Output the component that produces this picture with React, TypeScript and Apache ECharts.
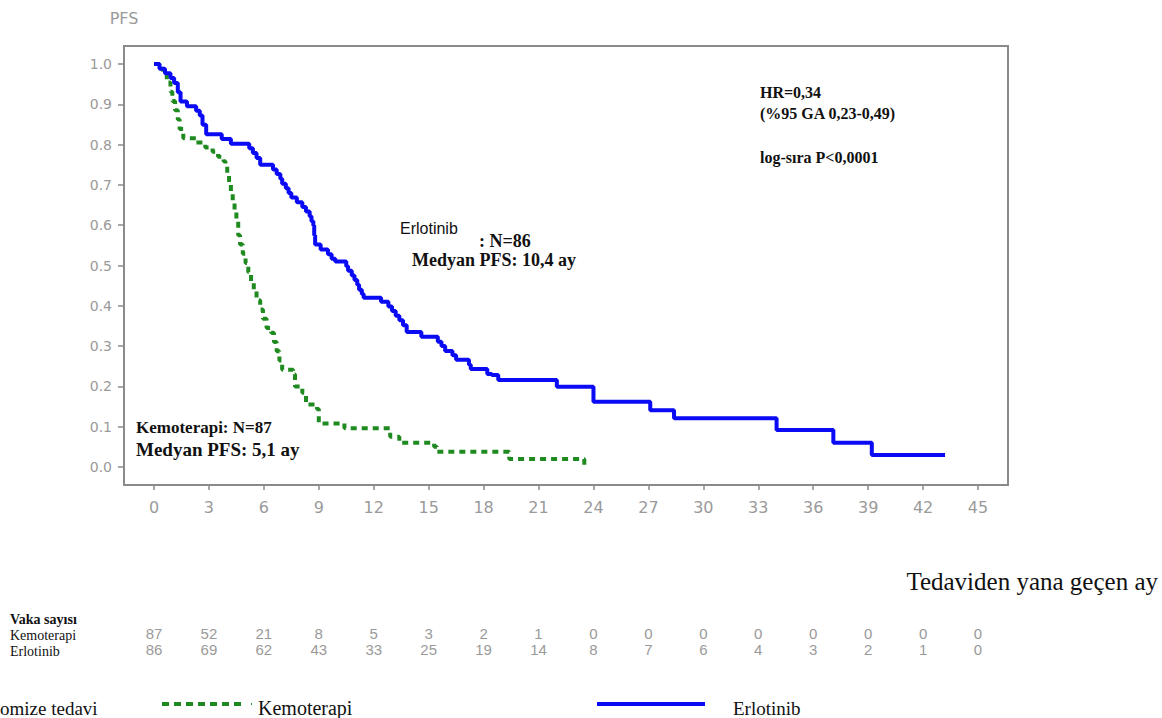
import React, { useEffect, useRef } from 'react';
import * as echarts from 'echarts';

// Kaplan-Meier PFS estimates: [month, survival]
const erlotinibCurve: [number, number][] = [
  [0, 1.0], [0.3, 0.988], [0.6, 0.977], [0.9, 0.965], [1.1, 0.953], [1.3, 0.93],
  [1.45, 0.907], [1.8, 0.895], [2.3, 0.884], [2.5, 0.872], [2.65, 0.849], [2.85, 0.826],
  [3.7, 0.814], [4.2, 0.802], [5.2, 0.791], [5.4, 0.779], [5.6, 0.767], [5.8, 0.75],
  [6.5, 0.738], [6.7, 0.727], [6.9, 0.715], [7.0, 0.703], [7.2, 0.692], [7.35, 0.68],
  [7.5, 0.669], [7.8, 0.657], [8.1, 0.645], [8.3, 0.634], [8.5, 0.622], [8.6, 0.61],
  [8.7, 0.599], [8.75, 0.575], [8.8, 0.552], [9.1, 0.54], [9.5, 0.528], [9.7, 0.517],
  [9.9, 0.51], [10.5, 0.498], [10.6, 0.487], [10.8, 0.475], [10.95, 0.464], [11.1, 0.452],
  [11.2, 0.44], [11.35, 0.429], [11.45, 0.42], [12.4, 0.41], [12.8, 0.398], [13.0, 0.387],
  [13.2, 0.375], [13.4, 0.364], [13.6, 0.352], [13.8, 0.335], [14.6, 0.323], [15.5, 0.311],
  [15.7, 0.3], [15.9, 0.288], [16.3, 0.277], [16.5, 0.266], [17.2, 0.254], [17.3, 0.243],
  [18.2, 0.231], [18.45, 0.228], [18.8, 0.216], [22.0, 0.199], [24.0, 0.162], [27.1, 0.141],
  [28.4, 0.121], [34.0, 0.092], [37.1, 0.06], [39.2, 0.03], [43.2, 0.03],
];

const kemoterapiCurve: [number, number][] = [
  [0, 1.0], [0.3, 0.988], [0.5, 0.977], [0.7, 0.954], [0.9, 0.931], [1.0, 0.908],
  [1.15, 0.885], [1.3, 0.862], [1.4, 0.839], [1.6, 0.816], [2.3, 0.805], [2.8, 0.793],
  [3.2, 0.782], [3.5, 0.77], [3.8, 0.759], [3.9, 0.747], [4.0, 0.724], [4.1, 0.701],
  [4.2, 0.678], [4.3, 0.655], [4.4, 0.632], [4.5, 0.609], [4.6, 0.575], [4.7, 0.552],
  [4.85, 0.529], [5.0, 0.506], [5.15, 0.483], [5.3, 0.46], [5.45, 0.437], [5.6, 0.414],
  [5.8, 0.391], [5.95, 0.368], [6.15, 0.345], [6.4, 0.333], [6.55, 0.31], [6.7, 0.287],
  [6.85, 0.264], [7.0, 0.241], [7.6, 0.23], [7.7, 0.2], [8.1, 0.184], [8.3, 0.155],
  [8.9, 0.144], [9.0, 0.108], [10.4, 0.096], [12.9, 0.075], [13.4, 0.06], [15.3, 0.05],
  [15.45, 0.038], [19.4, 0.02], [23.5, 0.0],
];

const xTicks = [0, 3, 6, 9, 12, 15, 18, 21, 24, 27, 30, 33, 36, 39, 42, 45];
const yTicks = [0, 0.1, 0.2, 0.3, 0.4, 0.5, 0.6, 0.7, 0.8, 0.9, 1.0];
const riskKemoterapi = [87, 52, 21, 8, 5, 3, 2, 1, 0, 0, 0, 0, 0, 0, 0, 0];
const riskErlotinib = [86, 69, 62, 43, 33, 25, 19, 14, 8, 7, 6, 4, 3, 2, 1, 0];

const seriesNames = ['Kemoterapi', 'Erlotinib'];
const statsLines = ['HR=0,34', '(%95 GA 0,23-0,49)', 'log-sıra P<0,0001'];

const GRAY = '#9a9a9a';
const AXIS = '#8a8a8a';
const SERIF = '"Liberation Serif", "Times New Roman", serif';
const SANS = '"DejaVu Sans", Verdana, sans-serif';
const ARIAL = '"Liberation Sans", Arial, sans-serif';

// axis extents: the frame extends a little beyond 0..45 and 0..1
const X_MIN = -1.638;
const X_MAX = 46.638;
const Y_MIN = -0.0447;
const Y_MAX = 1.0447;

function txt(x: number, y: number, text: string, font: string, fill: string, align = 'left') {
  return {
    type: 'text',
    x,
    y,
    silent: true,
    style: {
      text,
      font,
      fill,
      align,
      textAlign: align,
      verticalAlign: 'middle',
      textVerticalAlign: 'middle',
    },
  };
}

export default function App() {
  const ref = useRef<HTMLDivElement>(null);

  useEffect(() => {
    if (!ref.current) return;
    const chart = echarts.init(ref.current, undefined, { renderer: 'svg' });

    const idx = (v: number) => xTicks.indexOf(Math.round(v));

    const riskAxis = (offset: number, counts: number[]) => ({
      type: 'value', min: X_MIN, max: X_MAX, position: 'bottom', offset,
      axisLine: { show: false }, axisTick: { show: false }, splitLine: { show: false },
      axisLabel: {
        margin: 0, color: GRAY, fontSize: 15, fontFamily: ARIAL,
        customValues: xTicks,
        formatter: (v: number) => String(counts[idx(v)]),
      },
    });

    const option: any = {
      animation: false,
      backgroundColor: '#ffffff',
      grid: { left: 124, top: 46, width: 884, height: 439, show: false },
      xAxis: [
        {
          type: 'value', min: X_MIN, max: X_MAX, position: 'bottom',
          axisLine: { show: true, onZero: false, lineStyle: { color: AXIS, width: 2 } },
          axisTick: { show: true, length: 5, customValues: xTicks, lineStyle: { color: AXIS, width: 1.5 } },
          axisLabel: {
            margin: 14, color: GRAY, fontSize: 16, fontFamily: SANS,
            customValues: xTicks,
            formatter: (v: number) => String(Math.round(v)),
          },
          splitLine: { show: false },
        },
        riskAxis(141, riskKemoterapi),
        riskAxis(157, riskErlotinib),
      ],
      yAxis: {
        type: 'value', min: Y_MIN, max: Y_MAX,
        axisLine: { show: true, onZero: false, lineStyle: { color: AXIS, width: 2 } },
        axisTick: { show: true, length: 6, customValues: yTicks, lineStyle: { color: AXIS, width: 1.5 } },
        axisLabel: {
          margin: 12, color: GRAY, fontSize: 14, fontFamily: SANS,
          customValues: yTicks,
          formatter: (v: number) => v.toFixed(1),
        },
        splitLine: { show: false },
      },
      series: [
        {
          name: seriesNames[0], type: 'line', step: 'end', data: kemoterapiCurve,
          symbol: 'none', clip: false, z: 3,
          lineStyle: { color: '#1f8a1f', width: 4, type: [6, 5] },
        },
        {
          name: seriesNames[1], type: 'line', step: 'end', data: erlotinibCurve,
          symbol: 'none', clip: false, z: 4,
          lineStyle: { color: '#0a0af5', width: 4 },
        },
      ],
      graphic: [
        {
          type: 'rect', silent: true, z: 1,
          shape: { x: 124, y: 46, width: 884, height: 439 },
          style: { fill: 'none', stroke: AXIS, lineWidth: 2 },
        },
        txt(124, 18, 'PFS', '16px ' + SANS, GRAY, 'center'),
        txt(760, 92, statsLines[0], 'bold 16px ' + SERIF, '#111'),
        txt(760, 113, statsLines[1], 'bold 16px ' + SERIF, '#111'),
        txt(760, 157, statsLines[2], 'bold 16px ' + SERIF, '#111'),
        txt(400, 228, 'Erlotinib', '16px ' + ARIAL, '#111'),
        txt(479, 241, ': N=86', 'bold 18px ' + SERIF, '#111'),
        txt(412, 260, 'Medyan PFS: 10,4 ay', 'bold 18px ' + SERIF, '#111'),
        txt(136, 427, 'Kemoterapi: N=87', 'bold 17px ' + SERIF, '#111'),
        txt(136, 449, 'Medyan PFS: 5,1 ay', 'bold 19px ' + SERIF, '#111'),
        txt(1158, 581, 'Tedaviden yana geçen ay', '25px ' + SERIF, '#111', 'right'),
        txt(10, 619, 'Vaka sayısı', 'bold 14px ' + SERIF, '#111'),
        txt(10, 635, seriesNames[0], '14px ' + SERIF, '#111'),
        txt(10, 651, seriesNames[1], '14px ' + SERIF, '#111'),
        txt(0, 708, 'omize tedavi', '19px ' + SERIF, '#111'),
        {
          type: 'line', silent: true,
          shape: { x1: 162, y1: 704, x2: 246, y2: 704 },
          style: { stroke: '#1f8a1f', lineWidth: 4, lineDash: [7, 5] },
        },
        {
          type: 'line', silent: true,
          shape: { x1: 251, y1: 704, x2: 252, y2: 704 },
          style: { stroke: '#1f8a1f', lineWidth: 2 },
        },
        txt(258, 708, seriesNames[0], '20px ' + SERIF, '#111'),
        {
          type: 'line', silent: true,
          shape: { x1: 597, y1: 704, x2: 705, y2: 704 },
          style: { stroke: '#0a0af5', lineWidth: 4 },
        },
        txt(733, 708, seriesNames[1], '19px ' + SERIF, '#111'),
      ],
    };

    chart.setOption(option);
    return () => chart.dispose();
  }, []);

  return (
    <div
      ref={ref}
      style={{ position: 'fixed', left: 0, top: 0, width: 1162, height: 718, background: '#fff' }}
    />
  );
}
